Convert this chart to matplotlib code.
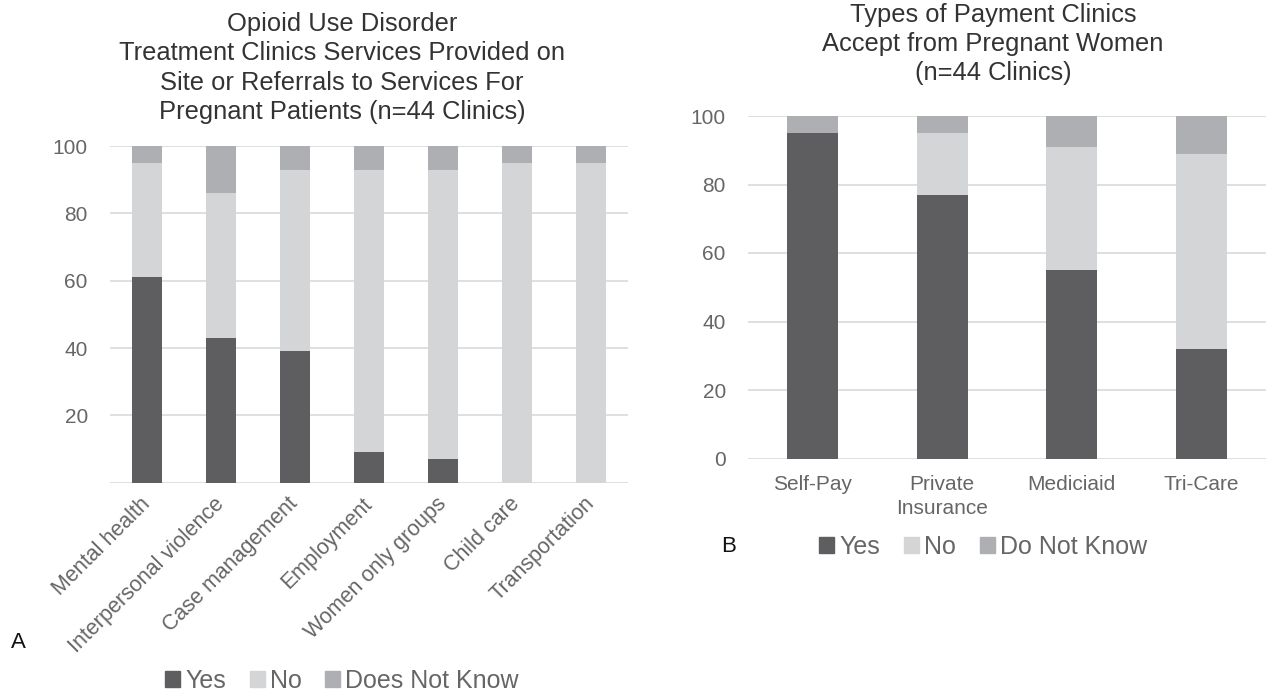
import matplotlib
matplotlib.use("Agg")
import matplotlib.pyplot as plt
import numpy as np
from matplotlib.patches import Patch

plt.rcParams['font.family'] = ['Liberation Sans', 'DejaVu Sans']

# ---- Data: panel A ----
services = ["Mental health", "Interpersonal violence", "Case management",
            "Employment", "Women only groups", "Child care", "Transportation"]
a_yes = [61, 43, 39, 9, 7, 0, 0]
a_no = [34, 43, 54, 84, 86, 95, 95]
a_dnk = [5, 14, 7, 7, 7, 5, 5]
a_labels = ["Yes", "No", "Does Not Know"]
a_yticks = [0, 20, 40, 60, 80, 100]
a_yticklabels = ["", "20", "40", "60", "80", "100"]

# ---- Data: panel B ----
payments = ["Self-Pay", "Private\nInsurance", "Mediciaid", "Tri-Care"]
b_yes = [95, 77, 55, 32]
b_no = [0, 18, 36, 57]
b_dnk = [5, 5, 9, 11]
b_labels = ["Yes", "No", "Do Not Know"]
b_yticks = [0, 20, 40, 60, 80, 100]

title_a = ("Opioid Use Disorder\nTreatment Clinics Services Provided on\n"
           "Site or Referrals to Services For\nPregnant Patients (n=44 Clinics)")
title_b = "Types of Payment Clinics\nAccept from Pregnant Women\n(n=44 Clinics)"

C_YES = "#5e5e60"
C_NO = "#d4d5d7"
C_DNK = "#aeafb2"
GRID = "#d9d9d9"
TICK = "#666666"
TITLE = "#333333"

fig = plt.figure(figsize=(12.71, 6.93), dpi=100)

axA = fig.add_axes([110/1271, (693-482.7)/693, 518/1271, 336.7/693])
axB = fig.add_axes([748/1271, (693-458.5)/693, 518/1271, 342.5/693])


def stacked(ax, cats, yes, no, dnk, width):
    x = np.arange(len(cats))
    yes = np.array(yes); no = np.array(no); dnk = np.array(dnk)
    ax.bar(x, yes, width, color=C_YES, zorder=3)
    ax.bar(x, no, width, bottom=yes, color=C_NO, zorder=3)
    ax.bar(x, dnk, width, bottom=yes + no, color=C_DNK, zorder=3)
    ax.set_xlim(-0.5, len(cats) - 0.5)
    ax.set_ylim(0, 100)
    for s in ax.spines.values():
        s.set_visible(False)
    ax.yaxis.grid(True, color=GRID, lw=1.2, zorder=0)
    ax.set_axisbelow(True)
    ax.tick_params(axis='both', length=0, colors=TICK, labelsize=15)
    return x


xA = stacked(axA, services, a_yes, a_no, a_dnk, 0.40)
axA.set_yticks(a_yticks)
axA.set_yticklabels(a_yticklabels)
axA.tick_params(axis='y', pad=16)
axA.set_xticks(xA + 0.0)
axA.set_xticklabels(services, rotation=45, ha='right', va='center',
                    rotation_mode='anchor', fontsize=15.5)
axA.tick_params(axis='x', pad=13)

xB = stacked(axB, payments, b_yes, b_no, b_dnk, 0.39)
axB.set_yticks(b_yticks)
axB.tick_params(axis='y', pad=16)
axB.set_xticks(xB)
axB.set_xticklabels(payments, fontsize=15, linespacing=1.35)
axB.tick_params(axis='x', pad=12)

fig.text(342/1271, 1 - 68/693, title_a, ha='center', va='center',
         fontsize=18.4, color=TITLE, linespacing=1.27)
fig.text(993/1271, 1 - 44/693, title_b, ha='center', va='center',
         fontsize=18.4, color=TITLE, linespacing=1.27)

leg_kw = dict(ncol=3, frameon=False, fontsize=18, handlelength=0.6, handleheight=0.6,
              handletextpad=0.2, columnspacing=0.95, labelcolor=TICK, borderpad=0.2)
handlesA = [Patch(color=c) for c in (C_YES, C_NO, C_DNK)]
fig.legend(handlesA, a_labels, loc='center', bbox_to_anchor=(342/1271, 1 - 681/693), **leg_kw)
handlesB = [Patch(color=c) for c in (C_YES, C_NO, C_DNK)]
fig.legend(handlesB, b_labels, loc='center', bbox_to_anchor=(983/1271, 1 - 547/693), **leg_kw)

fig.text(18/1271, 1 - 642/693, "A", ha='center', va='center', fontsize=16, color="#111111")
fig.text(729/1271, 1 - 547/693, "B", ha='center', va='center', fontsize=16, color="#111111")

fig.savefig("out.png", dpi=100)
